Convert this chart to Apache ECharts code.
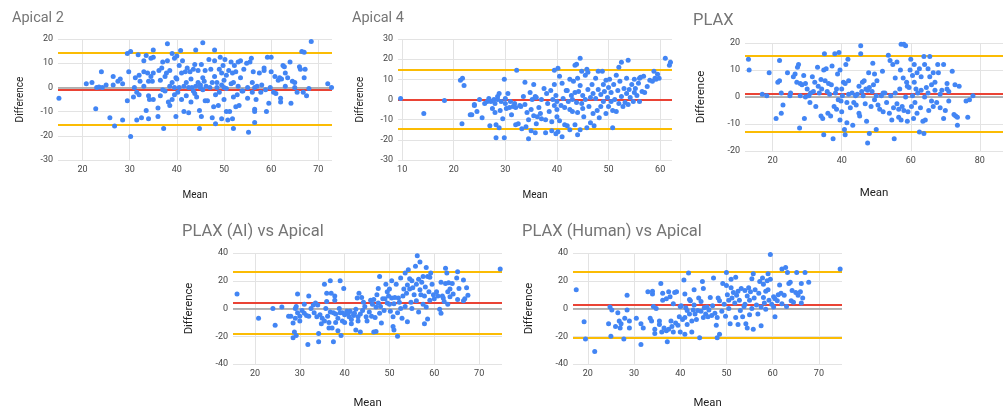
<!DOCTYPE html>
<html>
<head>
<meta charset="utf-8">
<title>Bland-Altman plots</title>
<script src="https://cdn.jsdelivr.net/npm/echarts@6/dist/echarts.min.js"></script>
<style>
  html, body { margin: 0; padding: 0; background: #fff; }
  #chart { width: 1005px; height: 410px; }
</style>
</head>
<body>
<div id="chart"></div>
<script>
const titles = ['Apical 2', 'Apical 4', 'PLAX', 'PLAX (AI) vs Apical', 'PLAX (Human) vs Apical'];

// each point is [mean, difference]
const apical2Points = [
  [15, -4.5], [20.8, 1.5], [22, 2], [22.8, -8.8], [23, 0], [23.5, 0.2], [24, 6.5], [24.2, 0], [25, 1],
  [25.8, -12.5], [26.5, 4.5], [26.5, 1], [26.8, -16], [27.5, 2.5], [28, 3.5], [28.5, -13.5], [28.5, 1.5], [29.5, -5.5], [29.5, 14], [29.8, 6.5],
  [30.2, 14.8], [30.2, -20.3], [30.8, -4], [31, 0], [31.2, 4], [31.5, -2], [31.5, -13.5], [31.8, 13.5], [32, 5], [32, -3], [32.2, 2.5], [32.5, -12.5],
  [33, 6.5], [33, 11], [33, 0.5], [33.5, -9.5], [33.5, 13.2], [33.8, 6], [34, -3.5], [34, -13], [34, 2.5], [34.2, -5], [34.5, 12], [34.5, 4.5],
  [35, 15.5], [35, -5], [35, 6], [35, 12.5], [34.8, 2.5],
  [36, -8.5], [36, -12], [36.2, 7], [36.5, -3.5], [36.5, 3], [36.8, 8], [37, -1], [37, 10.5], [37.2, -17], [37.5, 4.5], [37.5, -1.5], [37.8, 6],
  [38, 18], [38, 11], [38.2, -6], [38.5, 7], [38.5, 0.5], [38.5, -7.5], [39, 14], [39, 2], [39, -5], [39.5, 0], [39.5, 12], [39.8, 4], [39.8, -12], [39.5, -3],
  [40, 13], [40, 3.5], [40.2, -2], [40.5, 9], [40.5, 0], [40.8, 15.2], [41, -5], [41, 6], [41.2, 11], [41.5, 0.5], [41.5, -10], [41.8, 6.5],
  [42, 2], [42, -3.5], [42.2, 8], [42.5, -10.5], [42.5, 0], [42.8, 6.5], [43, -6], [43, 3.5], [43.2, 0], [43.5, 7.5], [43.5, -1.5], [43.8, 9.5],
  [43.8, -2.5], [44, 15.5], [44, 0.5], [44.2, -4], [44.5, 2], [44.5, 7], [44.8, -17], [44.8, -9.5], [45, 0], [45, 1],
  [45.2, 9.5], [45.2, -12], [45.5, 18.5], [45.5, 4], [45.5, -1], [45.8, 2.5], [46, -5.5], [46, 7], [46.2, 0.5], [46.5, -5.5], [46.8, 11.5], [47, 0],
  [47.2, 7.5], [47.5, -12.5], [47.5, 2], [47.8, -8], [48, 15.5], [48, 11], [48, 4.5], [48.2, -3], [48.2, -15], [48.5, 0], [48.5, 2], [48.8, -7.5],
  [49, 7.5], [49, -2], [49.2, 12.5], [49.5, 6], [49.5, -13], [49.5, 1], [49.8, 9], [50, -5], [50, 0], [50, 3],
  [50.2, 11.5], [50.5, -10], [50.5, 5], [50.5, -0.5], [50.8, -13.5], [51, 7], [51.2, -10], [51.5, 1.5], [51.5, 10.5], [51.8, -13], [51.8, 6],
  [52, -17], [52, -4], [52, 2], [52.2, 9], [52.5, -8], [52.5, 6.5], [52.8, -3], [53, 10.5], [53, 0.5], [53.2, -7.5], [53.5, 11], [53.5, 4],
  [53.8, -1.5], [54, -1.5], [54.2, 7.5], [54.8, 10], [55, -4.5], [55, 0], [55.2, -18.5],
  [55.5, 10.5], [55.8, 12], [56, -2], [56, 2], [56.2, 6.5], [56.5, -9], [56.5, -14.5], [56.5, -10], [56.5, 0], [56.8, -5], [57, 0.5], [57.5, 6],
  [57.8, -2], [58, 1], [58.5, 8], [58.5, 7], [58.8, -1], [59, -10], [59.2, 12.5], [59.5, -6.5], [59.8, 0], [60, 12.5], [60, 6.5],
  [60.5, -2], [60.8, 4.5], [61, -2.5], [61.5, 3], [61.8, 4], [62, -4.5], [62, -6], [62.2, 3.5], [62.5, 9], [62.8, 8.5], [63, 0.5], [63, 6],
  [63.5, 4], [64, 10.5], [64.2, -6.5], [64.5, 2.5], [65, 0], [65, 2],
  [65.5, -2], [66, 8.5], [66.2, 7.5], [66.5, 14.8], [66.8, -2], [67, 14.5], [67, 4], [67.2, 7.5], [67.5, -3.5], [68, -0.5], [68.5, 19], [72, 1.5], [72.8, 0]
];

const apical4Points = [
  [9.7, 0.5], [14.2, -7], [18.2, -0.5],
  [21.3, 9.5], [21.7, 10.5], [21.6, -12], [22, 7], [23.2, -7.5], [23.5, -7.5], [24, -3], [24, -2.5], [24.5, -6], [25, 0], [25.5, -9], [26, -2],
  [26.5, -1], [26.8, 0.5], [27, -13], [27.2, -1], [27.5, -4.5], [27.8, 0], [28, -6.5], [28, -2], [28.2, -12.5], [28.2, -19], [28.5, 1.5], [28.5, 0],
  [28.8, -14], [28.8, 3], [29, -5.5], [29.2, -1], [29.5, -9.5], [29.8, 10], [29.8, -19], [30, -2], [30, 0.5],
  [30.2, -4.5], [30.5, 3], [30.8, -4], [31, -1], [31.2, -7.5], [31.5, -3.5], [31.8, -2], [32, -12.5], [32, -4], [32.2, 14.5], [32.5, -12],
  [32.8, -3], [33, -3.5], [33.2, -14.5], [33.5, 1.5], [33.8, -2.5], [33.8, 8.5], [34, -13.5], [34.2, -6.5], [34.5, -19.5], [34.5, -10], [34.8, 3.5],
  [35, -5], [35, -15.5], [35.2, 0], [35.5, -8], [35.5, 7.5], [35.8, 1.5], [35.8, -16.5], [36, 1], [36, -12], [36.2, -8.5], [36.5, -4], [36.8, -7],
  [37, 0], [37, -9.5], [37.5, 5.5], [37.8, -10], [37.8, -16.5], [38, 3], [38.2, -2], [38.5, -6], [38.8, 4.5], [39, -11], [39, -15.5], [39.2, 0],
  [39.5, 7.5], [39.5, 14.5], [39.5, -3], [39.8, -17], [39.8, 2], [40, -5], [40, -8.5], [40, -1],
  [40.2, 15.5], [40.2, -16], [40.5, -10.5], [40.5, 11.5], [40.8, -3], [41, 8], [41, -18.5], [41.2, 0.5], [41.5, -4], [41.5, -12.5], [41.8, 4.5],
  [42, 4.5], [42, -13], [42.2, -1], [42.5, 10], [42.5, -15], [42.5, -5], [42.8, 2], [43, -6], [43, 0], [43.2, 9], [43.5, -12.5], [43.5, 3.5],
  [43.5, 17], [43.8, 17.5], [43.8, -1.5], [44, -17.5], [44, 10.5], [44, -6.5], [44.2, 4], [44.5, 20.5], [44.5, 7], [44.5, -15], [44.8, 14],
  [44.8, -2], [45, -4.5], [45, 2],
  [45.2, -8.5], [45.5, 12], [45.5, 0], [45.8, 15], [45.8, -14], [46, 5], [46, 13.5], [46.2, -3.5], [46.5, 1], [46.5, -11.5], [46.8, 7.5], [47, -7],
  [47, 3], [47.2, -13], [47.5, 10.5], [47.5, 0.5], [47.8, -5.5], [48, 14], [48, 5], [48.2, -9], [48.5, 2.5], [48.5, -3.5], [48.8, 14], [49, 7.5],
  [49, -1], [49.2, 4], [49.5, -7], [49.5, 9.5], [49.8, 1], [50, -3.5], [50, 6],
  [50.2, 10], [50.5, -1], [50.5, 3.5], [50.8, -14], [50.8, -5.5], [51, 7.5], [51.2, 0], [51.5, 12], [51.5, -6], [51.8, 4.5], [52, 16], [52, -2],
  [52.2, 9], [52.5, 18.5], [52.5, 1.5], [52.8, -3.5], [53, 5.5], [53.2, -1.5], [53.5, 10.5], [53.5, 3], [53.8, 19.5], [53.8, -2.5], [54, 5],
  [54.2, 1], [54.5, 7.5], [54.8, -1], [55, 3.5], [55, 10],
  [55.2, 5.5], [55.5, 2], [55.8, 8], [56, 10.5], [56, -1], [56.2, 11], [56.5, 4], [56.8, 11.5], [57, 3.5], [57.5, 6.5], [58, 9.5], [58.5, 9],
  [58.8, 14], [59, 10.5], [59.2, 10], [59.5, 12.5], [59.8, 10.5], [61, 20.5], [61.8, 17], [62, 18.5]
];

const plaxPoints = [
  [13, 14], [13.2, 10], [17, 1], [18.3, 0.5], [19, 9], [21, -8], [21.5, 5.5], [22, 13.5], [22, 6], [22.5, 1.5], [22.5, -6], [23, -3], [24.3, 9],
  [25, 0.5], [25.2, 1.5], [26, 7.5], [26.5, 8.5], [27, 5.5], [27.2, 11], [27.5, 12], [27.8, -11.5], [28, 5], [28, 0.5], [28.5, 4.5], [29, 8],
  [29.2, -8], [29.5, 0], [29.5, 5], [30, 3], [30.5, 0.5], [30.8, -2], [31, 1.5], [31.5, 7.5], [31.8, 2], [32.2, 5.5], [32.5, -3.5], [33, 11],
  [33.2, 4], [33.5, 1.5], [34, 6.5], [34, -7], [34.2, 3], [34.5, -8], [34.8, 10], [34.8, -14], [35, 16], [35.2, 6], [35.5, 10.5], [35.8, 2],
  [36, -6], [36.2, 5], [36.5, 1], [36.8, -7], [37, 4.5], [37.2, 11.5], [37.5, -15.5], [37.8, -3.5], [38, 16], [38.2, 1.5], [38.5, -4.5], [38.5, 3],
  [38.8, 8.5], [39, -1], [39.2, 16.5], [39.5, 10], [39.5, -8.5], [39.8, -1.5], [40, 3], [40, -5.5], [40.2, 0.5], [40.5, 5.5], [40.8, -12],
  [41, -14], [41, 5], [41.2, 12], [41.5, -2], [41.5, -9.5], [41.8, 14], [42, 1], [42, 6], [42.5, -4], [43, 1.5], [43.2, -10.5], [43.5, -2],
  [44, 0.5], [44.2, -3], [44.5, 1], [45, 4], [45, -6], [45.2, -7], [45.5, 19], [45.5, 16], [45.8, 2], [46, 5.5], [46.2, 0.5], [46.5, 6],
  [46.8, -2.5], [47, 3], [47.2, -9], [47.5, 2.5], [47.5, -17], [47.8, 9], [48, -13.5], [48, 3.5], [48.5, -3.5], [48.8, 2], [49, 12.5], [49.2, 4.5],
  [49.5, -1], [49.5, 8.5], [50, -12], [50, 0.5], [50.2, 6], [50.5, -3], [51, -4.5], [51.5, 0.5], [51.8, 9.5], [52, 1.5], [52, -5.5], [52.5, 1.5],
  [53, -2], [53.5, 15.5], [53.8, -6], [54, 13.5], [54.2, 0.5], [54.5, -8.5], [54.8, 12], [55, -4], [55.2, -15.5], [55.5, 1.5], [55.5, 7],
  [56, 13], [56, -2.5], [56.5, -4.5], [56.5, -7.5], [56.8, 3], [57, 10], [57.2, -8.5], [57.2, 19.5], [57.5, -3.5], [57.8, 7], [58, -5],
  [58, 19.5], [58.5, 19], [58.5, 0], [58.8, 5.5], [59, 4], [59, -9], [59.2, -5.5], [59.5, 3.5], [59.8, 10], [60, 14], [60.2, -3.5], [60.5, 8],
  [60.5, 0.5], [60.8, -8], [61, 5.5], [61, 12], [61.2, -2], [61.5, 3], [61.8, 9], [61.8, -6], [62, 1.5], [62.5, 10.5], [62.5, -13], [62.8, -4],
  [63, 7.5], [63, 2.5], [63.5, -9], [63.8, -13.5], [63.8, 15], [64, 0], [64, 12], [64.2, -8.5], [64.5, 3.5], [65, 1.5], [65, 10.5], [65.2, -5],
  [65.5, 15], [65.5, 7.5], [66, -1.5], [66, 4.5], [66.5, 9], [66.5, -3.5], [67, 2.5], [67, 5.5], [67.5, -2], [67.8, 12], [68, 9], [68.5, 1],
  [68.5, -4], [69, 2.5], [69.5, 12], [69.5, -8], [70, -5], [70.5, 5], [70.5, 3], [71, -1.5], [71, 2], [72, 9.5], [72.5, -6.5], [72.8, 4.5],
  [73, -7], [73.5, -10.5], [73.5, -7.5], [74, 4], [76, -1.5], [76.5, -7.5], [77, -1], [78, 0.5]
];

const plaxAiPoints = [
  [16, 10.5], [20.8, -7], [24, 0], [24.5, -12], [26, 1], [27.5, -5.5], [28, -5.5], [28.5, -10.5], [28.5, -21], [28.8, -17], [29, -7], [29, 0],
  [29.2, 1.5], [29.2, -19.5], [29.5, 10.5], [29.5, -3], [30, -5.5], [30, -9], [30.5, -1.5], [31, 3], [31, -3.5], [31.5, -5], [31.8, -26],
  [32, -5.5], [32, 9], [32.5, 0], [33, 2.5], [33.2, -3], [33.5, 4], [33.8, -6], [34, 2.5], [34.2, -18], [34.2, -24], [34.5, -4.5], [34.8, -11],
  [35, -7], [35.5, -9], [35.5, 17.5], [35.8, 0], [36, 11], [36, 5], [36.2, -5.5], [36.5, -14], [36.5, -10], [36.8, -2.5], [36.8, 20], [37, 11],
  [37.2, -14], [37.5, -24], [37.5, -3], [37.8, 6], [37.8, 9], [38, -4], [38, -10], [38.5, -16], [38.5, -7], [38.8, 0], [39, -3], [39, 20],
  [39.2, -19.5], [39.5, -9], [39.5, -3], [39.8, 14.5], [40, -4.5], [40, -10], [40.5, -2], [40.8, -3.5], [41, -6], [41.2, -2], [41.5, -8],
  [41.5, -11], [42, -5], [42, -4], [42.2, -3.5], [42.5, -0.5], [42.5, -15.5], [42.8, 7.5], [43, -6], [43, -9], [43.2, 11], [43.5, -17],
  [43.5, -4], [43.8, 8], [44, -1.5], [44.2, 4.5], [44.5, 1.5], [44.8, -6], [45, -9], [45.5, -2.5], [45.8, 6], [46, -5.5], [46.2, 3], [46.5, -17],
  [46.5, 6.5], [46.8, -6.5], [47, 1], [47, -16.5], [47.2, 10], [47.5, 4], [47.5, 14.5], [47.8, 23], [47.8, -3.5], [48, 1.5], [48.2, -10.5],
  [48.5, 7], [48.8, -1.5], [49, 7], [49.2, 17.5], [49.5, 4], [49.5, 12], [49.8, 9], [50, 3], [50, 14], [50.2, -2], [50.5, 7.5], [50.5, 20],
  [50.8, -13], [50.8, -6], [51, -15.5], [51, 3.5], [51.2, 8], [51.5, 17.5], [51.8, -20], [51.8, -3], [52, 7.5], [52.2, 4.5], [52.5, 22],
  [52.5, 0], [52.8, -7], [53, 9], [53.2, 14], [53.5, 1.5], [53.5, 25.5], [53.8, 11], [54, 17], [54, -9.5], [54.2, 28], [54.5, 21.5], [54.5, 14],
  [54.8, 4.5], [55, 20], [55, 0], [55.2, 15], [55.5, 10], [55.8, 30.5], [56, 17.5], [56, 5.5], [56.2, 38], [56.5, -2.5], [56.5, 21],
  [56.8, 13.5], [56.8, 33.5], [57, 10], [57.2, 19], [57.5, 3], [57.5, 23], [57.8, 9], [57.8, -11], [58, 15.5], [58.2, 1], [58.2, 29.5],
  [58.5, -7.5], [58.5, 23], [58.8, 12], [59, 6], [59, 22.5], [59.2, 25.5], [59.5, 17.5], [59.8, 10], [60, 7], [60.5, 12], [60.8, 9],
  [61.2, -0.5], [61.5, -3.5], [61.5, 19], [61.8, 9], [62, 7.5], [62.2, 5], [62.5, 29], [62.5, 18], [62.8, 25.5], [63, 3], [63, 12], [63.2, 18.5],
  [63.5, 14], [63.5, 8.5], [64, 18], [64.2, 10.5], [65, 22], [65.2, 26.5], [65.2, 6.5], [65.5, 14.5], [66.5, 5.5], [66.5, 20.5], [66.8, 7],
  [67.2, 15], [67.5, 9.5], [74.7, 28.5]
];

const plaxHumanPoints = [
  [17.5, 13.5], [19.2, -9.5], [19.5, -22], [21.5, -31], [24.5, -11], [24.8, 1], [25, -20], [25.2, -1], [26, -13], [26.5, -3], [26.8, -9],
  [27, -14], [27.2, -11], [27.8, -22], [28, -7], [28.5, 9.5], [28.5, -1], [29, -14], [29, -9], [30.5, -7], [31.5, -11], [31.5, -26], [32, -14],
  [33, 12], [33.5, -7], [33.8, -9], [34, 10.5], [34, 12.5], [34.2, 1.5], [34.5, -15], [34.5, -18], [34.8, 0], [35.5, -9], [35.5, -11.5],
  [35.8, 18], [36, -17], [36.2, 11], [36.2, 6], [36.5, -14], [37, 7], [37, -16], [37.2, -24], [37.5, -15], [37.5, 12], [37.8, 8.5], [38, -9],
  [38.2, -13], [38.5, 3.5], [38.5, -17], [38.8, 11.5], [39, -10.5], [39.2, 12], [39.5, -12], [39.8, -6], [40, 1.5], [40, -17], [40.2, 2],
  [40.5, -8], [40.8, 20.5], [41, 10.5], [41, -6.5], [41, -18.5], [41.2, 0.5], [41.5, -1.5], [41.5, -11.5], [41.8, 25.5], [42, -4], [42, 6.5],
  [42.2, 5.5], [42.5, -17], [42.5, -9], [42.8, -1], [43, 2.5], [43, 13.5], [43.2, -4], [43.5, -8], [43.8, -1.5], [44, 7.5], [44.2, -21], [44.5, 5],
  [44.5, -2], [44.8, 19.5], [45, 14.5], [45, -6.5], [45.2, 0.5], [45.5, -4], [45.8, 1], [46, -6], [46.2, -1], [46.5, 8], [46.8, -5], [47, 2],
  [47.2, 22], [47.5, -3.5], [47.8, -12], [48, -21], [48, -6.5], [48.2, 7.5], [48.5, -18.5], [48.5, 5.5], [49, -2], [49.2, 18], [49.5, 3],
  [49.8, -5.5], [50, 26], [50, 16.5], [50.2, 10], [50.5, 0], [50.5, 6], [50.8, -11], [51, 21], [51, 15], [51.2, 7.5], [51.5, 11.5], [51.8, 4],
  [52, 22.5], [52, -6.5], [52.2, 9.5], [52.5, 12.5], [52.5, -11.5], [52.8, 6], [53, -1.5], [53.2, 14.5], [53.5, -6], [53.8, 1.5], [54, 13],
  [54, 3], [54.2, -11], [54.5, 9], [54.5, -14], [54.8, 15], [55, 6], [55, -4.5], [55.2, 12], [55.5, 0], [55.5, 21.5], [55.8, -15], [55.8, 25],
  [56, 7.5], [56.2, 13.5], [56.5, 2.5], [56.8, -4], [57, 11], [57.2, 19.5], [57.5, 1], [57.5, -12.5], [57.8, 22], [58, 17.5], [58, 8], [58.2, 4],
  [58.5, 12.5], [58.5, -0.5], [58.8, 20], [59, 25], [59, 13.5], [59.2, 6], [59.5, 39], [59.5, 21], [59.8, 3], [60.2, 8.5], [60.2, 1], [60.5, -6],
  [60.5, 7], [61, 5.5], [61.2, 10], [61.5, 17], [61.8, 11], [62, 28.5], [62, 3.5], [62.5, 9.5], [62.8, 29.5], [63, 1.5], [63.2, 26], [63.5, 18],
  [63.8, 19], [64, 5.5], [64.2, 13], [64.5, 4.5], [65, 11.5], [65.2, 26], [65.5, 9.5], [66, 12], [66.2, 4], [66.2, 18], [66.5, 7.5], [67, 26],
  [67.8, 19], [74.6, 28.5]
];

// [upper limit, mean difference, lower limit]
const apical2Limits = [14.2, -0.8, -15.6];
const apical4Limits = [14.6, 0.1, -14.6];
const plaxLimits = [15.3, 1.2, -12.9];
const plaxAiLimits = [26.7, 4.1, -18.2];
const plaxHumanLimits = [26.8, 2.5, -21.2];

const pointSets = [apical2Points, apical4Points, plaxPoints, plaxAiPoints, plaxHumanPoints];
const limitSets = [apical2Limits, apical4Limits, plaxLimits, plaxAiLimits, plaxHumanLimits];

// layout of each panel (pixels) and axis windows
const panels = [
  { left: 58, top: 39, width: 274, height: 121, xMin: 14.8, xMax: 72.9, yMin: -30, yMax: 20, yStep: 10,
    titleLeft: 12, titleTop: 11, titleSize: 14.5, nameSize: 10, xGap: 30, yGap: 33 },
  { left: 398, top: 39, width: 274, height: 121, xMin: 9.2, xMax: 62.3, yMin: -30, yMax: 30, yStep: 10,
    titleLeft: 352, titleTop: 11, titleSize: 14.5, nameSize: 10, xGap: 30, yGap: 33 },
  { left: 745, top: 43, width: 258, height: 108, xMin: 12, xMax: 86.7, yMin: -20, yMax: 20, yStep: 10,
    titleLeft: 693, titleTop: 12, titleSize: 16.5, nameSize: 11.5, xGap: 36, yGap: 38 },
  { left: 233, top: 253, width: 269, height: 113, xMin: 15.1, xMax: 75.1, yMin: -40, yMax: 40, yStep: 20,
    titleLeft: 182, titleTop: 223, titleSize: 16.5, nameSize: 11.3, xGap: 34, yGap: 38 },
  { left: 573, top: 253, width: 269, height: 113, xMin: 16.8, xMax: 75, yMin: -40, yMax: 40, yStep: 20,
    titleLeft: 522, titleTop: 223, titleSize: 16.5, nameSize: 11.3, xGap: 34, yGap: 38 }
];

const FONT = 'Roboto, Arial, sans-serif';
const gridColor = '#e3e3e3';

const option = {
  animation: false,
  backgroundColor: '#fff',
  title: [],
  grid: [],
  xAxis: [],
  yAxis: [],
  series: []
};

panels.forEach((p, i) => {
  const limits = limitSets[i];

  option.title.push({
    text: titles[i],
    left: p.titleLeft,
    top: p.titleTop,
    padding: 0,
    textStyle: { fontFamily: FONT, fontSize: p.titleSize, fontWeight: 'normal', color: '#757575' }
  });

  option.grid.push({ left: p.left, top: p.top, width: p.width, height: p.height, containLabel: false });

  option.xAxis.push({
    gridIndex: i,
    type: 'value',
    min: p.xMin,
    max: p.xMax,
    splitNumber: i === 2 ? 4 : 5,
    name: 'Mean',
    nameLocation: 'middle',
    nameGap: p.xGap,
    nameTextStyle: { fontFamily: FONT, fontSize: p.nameSize, color: '#222' },
    axisLine: { show: false },
    axisTick: { show: false },
    axisLabel: { showMinLabel: false, showMaxLabel: false, margin: 5,
      fontFamily: FONT, fontSize: 9, color: '#444' },
    splitLine: { show: true, showMinLine: false, showMaxLine: false, lineStyle: { color: gridColor, width: 1 } }
  });

  option.yAxis.push({
    gridIndex: i,
    type: 'value',
    min: p.yMin,
    max: p.yMax,
    interval: p.yStep,
    name: 'Difference',
    nameLocation: 'middle',
    nameGap: p.yGap,
    nameTextStyle: { fontFamily: FONT, fontSize: p.nameSize, color: '#222' },
    axisLine: { show: false },
    axisTick: { show: false },
    axisLabel: { margin: 5, fontFamily: FONT, fontSize: 9, color: '#444' },
    splitLine: { show: true, lineStyle: { color: gridColor, width: 1 } }
  });

  option.series.push({
    type: 'scatter',
    xAxisIndex: i,
    yAxisIndex: i,
    data: pointSets[i],
    symbolSize: 5,
    itemStyle: { color: '#4285f4', opacity: 1 },
    z: 3,
    markLine: {
      silent: true,
      symbol: 'none',
      z: 1,
      label: { show: false },
      data: [
        { yAxis: 0, lineStyle: { color: '#9e9e9e', width: 1.5, type: 'solid' } },
        { yAxis: limits[0], lineStyle: { color: '#fbbc04', width: 2, type: 'solid' } },
        { yAxis: limits[2], lineStyle: { color: '#fbbc04', width: 2, type: 'solid' } },
        { yAxis: limits[1], lineStyle: { color: '#ea4335', width: 2, type: 'solid' } }
      ]
    }
  });
});

const chart = echarts.init(document.getElementById('chart'), null, { renderer: 'canvas' });
chart.setOption(option);
</script>
</body>
</html>
